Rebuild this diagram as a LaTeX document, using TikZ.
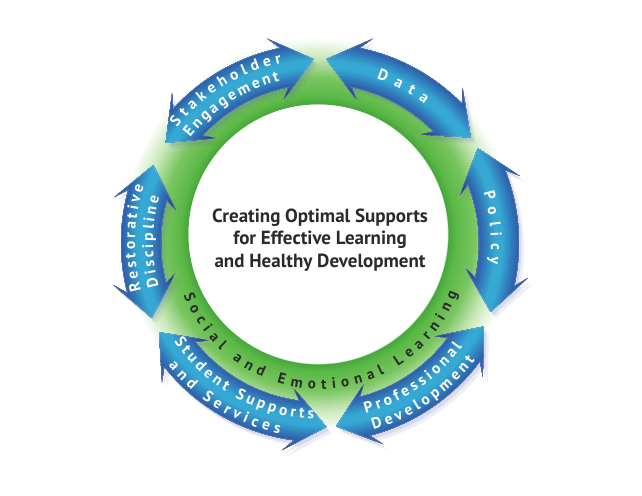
\documentclass[tikz,border=0pt]{standalone}
\usepackage{fontspec}
\setmainfont{PT Sans}
\usetikzlibrary{decorations.text}
\definecolor{navyedge}{HTML}{26337C}
\definecolor{midblue}{HTML}{2E5FAA}
\definecolor{tealcore}{HTML}{35A8D4}
\definecolor{shadowc}{HTML}{6068B0}
\definecolor{gdark}{HTML}{45A63B}
\definecolor{gmid}{HTML}{5BB846}
\definecolor{glight}{HTML}{78C55F}
\definecolor{gpale}{HTML}{C8E8B8}
\definecolor{titlegray}{HTML}{2A2A2A}
\pgfdeclareradialshading{greenring}{\pgfpoint{0bp}{0bp}}{color(0bp)=(white); color(16.15bp)=(white); color(16.25bp)=(gdark); color(17.2bp)=(gmid); color(19.5bp)=(glight); color(22bp)=(gpale); color(24.5bp)=(white); color(50bp)=(white)}
\newcommand{\R}{179}
\newcommand{\bw}{20}
\newcommand{\hw}{32}
\newcommand{\h}{9.5}
\newcommand{\sw}{3}
\newcommand{\tipout}{5}
\tikzset{
  arrowshape/.style 2 args={insert path={
    (#1:{\R+\tipout}) -- ({#1+\h+\sw}:{\R+\hw}) -- ({#1+\h}:{\R+\bw})
    arc[start angle={#1+\h}, end angle={#2-\h}, radius={\R+\bw}]
    -- ({#2-\h-\sw}:{\R+\hw}) -- (#2:{\R+\tipout}) -- ({#2-\h-\sw}:{\R-\hw})
    -- ({#2-\h}:{\R-\bw})
    arc[start angle={#2-\h}, end angle={#1+\h}, radius={\R-\bw}]
    -- ({#1+\h+\sw}:{\R-\hw}) -- cycle}}
}
\newcommand{\bluearrow}[2]{%
  \fill[shadowc, opacity=0.10, shift={(5,-6)}, arrowshape={#1}{#2}];
  \fill[shadowc, opacity=0.14, shift={(2.5,-3.5)}, arrowshape={#1}{#2}];
  \begin{scope}
    \clip[arrowshape={#1}{#2}];
    \fill[navyedge, arrowshape={#1}{#2}];
    \foreach \i in {0,...,6}{
      \pgfmathsetmacro\lw{64-3*\i}
      \pgfmathsetmacro\pc{\i*100/6}
      \draw[line width=\lw, color=midblue!\pc!navyedge] ({#1-3}:{\R+2}) arc[start angle={#1-3}, end angle={#2+3}, radius={\R+2}];
    }
    \foreach \i in {0,...,12}{
      \pgfmathsetmacro\lw{40-2.6*\i}
      \pgfmathsetmacro\pc{\i*100/12}
      \draw[line width=\lw, color=tealcore!\pc!midblue] ({#1-3}:\R) arc[start angle={#1-3}, end angle={#2+3}, radius=\R];
    }
  \end{scope}
  \draw[white, opacity=0.18, line width=0.8, arrowshape={#1}{#2}];
}
\newcommand{\arctext}[5]{%
  \path[decorate, decoration={text along path, text={|#5|#4}, text align={fit to path}}]
    (#2:#1) arc[start angle=#2, end angle=#3, radius=#1];
}
\newcommand{\wfmt}{\color{white}\bfseries\fontsize{15.5}{15.5}\selectfont}
\begin{document}
\begin{tikzpicture}[x=1pt, y=1pt]
  \fill[white] (-320,-252) rectangle (322,243);
  \useasboundingbox (-320,-252) rectangle (322,243);
  % green ring
  \shade[shading=greenring] (-2,9) circle[radius=200];
  \fill[white] (-2,9) circle[radius=129.5];
  % arrows
  \bluearrow{92}{147}
  \bluearrow{35}{88}
  \bluearrow{-22}{31}
  \bluearrow{-85}{-27}
  \bluearrow{-151}{-88}
  \bluearrow{155}{204}
  % arrow labels
  \arctext{184}{141}{102}{Stakeholder}{\wfmt}
  \arctext{167}{141}{104}{Engagement}{\wfmt}
  \arctext{174}{71}{53}{Data}{\wfmt}
  \arctext{171}{17}{-7}{Policy}{\wfmt}
  \arctext{185}{195}{162}{Restorative}{\wfmt}
  \arctext{167}{195}{164}{Discipline}{\wfmt}
  \arctext{176}{214}{268}{Student Supports}{\wfmt}
  \arctext{195}{219}{258}{and Services}{\wfmt}
  \arctext{176}{285}{324}{Professional}{\wfmt}
  \arctext{194}{286}{323}{Development}{\wfmt}
  % SEL label
  \arctext{146}{201}{340}{Social and Emotional Learning}{\color{titlegray}\bfseries\fontsize{15}{15}\selectfont}
  % title
  \node[font=\bfseries\fontsize{19}{22.5}\selectfont, text=titlegray, align=center] (title) at (0,3)
    {Creating Optimal Supports\\for Effective Learning\\and Healthy Development};
\end{tikzpicture}
\end{document}
